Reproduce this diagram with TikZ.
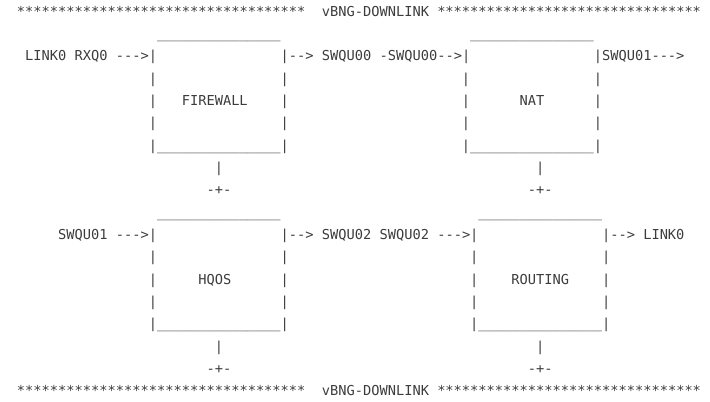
\documentclass[tikz,border=0pt]{standalone}
\usepackage{fontspec}
\setmonofont{DejaVu Sans Mono}
\usepackage{tikz}
\definecolor{ink}{HTML}{3C3C3C}
\newcommand{\mono}{\ttfamily\fontsize{13.69}{16}\selectfont}
\newcommand{\rep}[2]{\foreach \k in {1,...,#1}{#2}}
\newcommand{\floor}{\rep{15}{\_}}

\begin{document}
\begin{tikzpicture}[
  x=8.24pt, y=-22.33pt,
  txt/.style={anchor=base west, inner sep=0pt, outer sep=0pt, font=\mono, text=ink}
]
\useasboundingbox (-2.063,-0.724) rectangle (84.1,17.276);
% banner top
\node[txt] (topl) at (0,0) {\rep{35}{*}};
\node[txt] (toptitle) at (37,0) {vBNG-DOWNLINK};
\node[txt] (topr) at (51,0) {\rep{32}{*}};
% firewall and nat
\node[txt] (fwtop) at (17,1) {\floor};
\node[txt] (nattop) at (55,1) {\floor};
\node[txt] (fwin) at (1,2) {LINK0 RXQ0 --->|};
\node[txt] (fwout) at (32,2) {|--> SWQU00 -SWQU00-->|};
\node[txt] (natout) at (70,2) {|SWQU01--->};
\foreach \r in {3,4,5}
  \foreach \c in {16,32,54,70}
    \node[txt] (side-\r-\c) at (\c,\r) {|};
\node[txt] (fw) at (20,4) {FIREWALL};
\node[txt] (nat) at (61,4) {NAT};
\node[txt] (fwbot) at (16,6) {|\floor|};
\node[txt] (natbot) at (54,6) {|\floor|};
\node[txt] (fwdown) at (24,7) {|};
\node[txt] (natdown) at (63,7) {|};
\node[txt] (fwjoin) at (23,8) {-+-};
\node[txt] (natjoin) at (62,8) {-+-};
% hqos and routing
\node[txt] (hqtop) at (17,9) {\floor};
\node[txt] (rttop) at (56,9) {\floor};
\node[txt] (hqin) at (5,10) {SWQU01 --->|};
\node[txt] (hqout) at (32,10) {|--> SWQU02 SWQU02 --->|};
\node[txt] (rtout) at (71,10) {|--> LINK0};
\foreach \r in {11,12,13}
  \foreach \c in {16,32,55,71}
    \node[txt] (side-\r-\c) at (\c,\r) {|};
\node[txt] (hq) at (22,12) {HQOS};
\node[txt] (rt) at (60,12) {ROUTING};
\node[txt] (hqbot) at (16,14) {|\floor|};
\node[txt] (rtbot) at (55,14) {|\floor|};
\node[txt] (hqdown) at (24,15) {|};
\node[txt] (rtdown) at (63,15) {|};
\node[txt] (hqjoin) at (23,16) {-+-};
\node[txt] (rtjoin) at (62,16) {-+-};
% banner bottom
\node[txt] (botl) at (0,17) {\rep{35}{*}};
\node[txt] (bottitle) at (37,17) {vBNG-DOWNLINK};
\node[txt] (botr) at (51,17) {\rep{32}{*}};
\end{tikzpicture}
\end{document}
